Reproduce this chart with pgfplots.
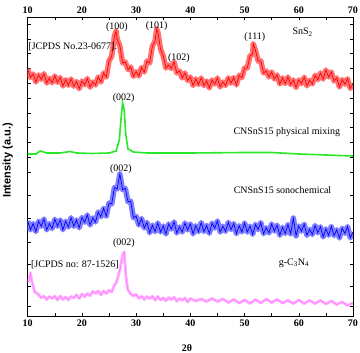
\documentclass[border=0pt]{standalone}
\usepackage{fontspec}
\setmainfont{Liberation Serif}
\newfontfamily\labfont{Liberation Sans}
\usepackage{pgfplots}
\pgfplotsset{compat=1.18}

\definecolor{xred}{RGB}{255,0,0}
\definecolor{xgreen}{RGB}{40,232,40}
\definecolor{xblue}{RGB}{0,0,255}
\definecolor{xpink}{RGB}{255,120,255}

% SnS2 (y = intensity offset in plot units)
\pgfplotstableread{
x y
10 247
10.5 238.5
11 242
11.5 234
12 241
12.5 236.7
13 242.3
13.5 233
14 237.7
14.5 233.3
15 240
15.5 233.7
16 238.3
16.5 230
17 236.3
17.5 230.7
18 237
18.5 229.8
19 234.5
19.5 227.3
20 235
20.5 231.3
21 237.5
21.5 228.8
22 234
22.5 231
23 239
23.5 234
24 243
24.5 239
25 255
25.5 260
26 280
26.3 285
26.5 277
27 270
27.5 253
28 254
28.5 246.5
29 249
29.5 239.7
30 244.3
30.5 240
31 248.5
31.5 244
32 255
32.5 253
33 270
33.5 275
33.8 287
34 284
34.5 267
35 260
35.5 248
36 251
36.5 247.5
37 254
37.5 243
38 245
38.5 238
39 243
39.5 235.5
40 239
40.5 230.5
41 237
41.5 231.5
42 238
42.5 230.5
43 235
43.5 228
44 236
44.5 232
45 238
45.5 229
46 234
46.5 230.6
47 238.2
47.5 232.8
48 238.4
48.5 231
49 240.7
49.5 238.3
50 248
50.5 248
51 260
51.5 262
51.6 272
52 266
52.5 255
53 255
53.5 243
54 245
54.5 239
55 244
55.5 237
56 241
56.5 232
57 238
57.5 232.5
58 239
58.5 231.5
59 236
59.5 228.5
60 236
60.5 232.4
61 238.8
61.5 230.2
62 235.6
62.5 232
63 240.7
63.5 236.3
64 243
64.5 237
65 246
65.5 239
66 244
66.5 235
67 238
67.5 229
68 236.4
68.5 231.8
69 237.2
69.5 227.6
70 232
}\snstwo

% CNSnS15 physical mixing
\pgfplotstableread{
x y
10 162
11.5 162
12.3 165
13.5 163
16 163
17.8 164.5
19 163
22 162.5
25 163
26.3 165
26.9 176
27.2 196
27.5 213
27.8 206
28.1 181
28.5 167
29.5 164
32 163
40 163
50 163.5
55 163.5
60 162
65 161
70 160
}\physmix

% CNSnS15 sonochemical
\pgfplotstableread{
x y
10 95
10.5 86.2
11 92.3
11.5 84.5
12 94.7
12.5 89.8
13 97
13.5 86.2
14 92.3
14.5 87.5
15 96.7
15.5 89.8
16 96
16.5 86.3
17 94.7
17.5 89
18 98.3
18.5 89.7
19 96
19.5 88.3
20 98.5
20.5 93.8
21 101
21.5 91
22 98
22.5 94
23 104
23.5 99.3
24 107.7
24.5 100
25 113
25.5 112
26 128.5
26.5 127
27 142
27.5 126.3
28 127.6
28.5 114.3
29 114.7
29.5 98.3
30 99.7
30.5 91
31 97.5
31.5 88
32 93.6
32.5 83.2
33 90.8
33.5 84.4
34 93
34.5 84
35 90
35.5 82
36 92
36.5 87
37 94
37.5 83
38 89
38.5 84
39 93
39.5 86
40 92
40.5 82.1
41 90.2
41.5 84.3
42 93.4
42.5 84.5
43 90.6
43.5 82.7
44 92.8
44.5 87.9
45 95
45.5 83.9
46 89.8
46.5 84.7
47 93.6
47.5 86.5
48 92.4
48.5 82.3
49 90.2
49.5 84.1
50 93
50.5 83.9
51 89.8
51.5 81.7
52 91.6
52.5 86.5
53 93.4
53.5 82.3
54 88.2
54.5 83.1
55 92
55.5 84.9
56 90.8
56.5 80.7
57 88.6
57.5 82.5
58 91.4
58.5 82.3
59 98
59.5 80.1
60 90
60.5 84.9
61 91.8
61.5 80.7
62 86.6
62.5 81.5
63 90.4
63.5 83.3
64 89.2
64.5 79.1
65 87
65.5 80.8
66 89.6
66.5 80.4
67 86.2
67.5 78
68 87.8
68.5 82.6
69 89.4
69.5 78.2
70 84
}\sono

% g-C3N4
\pgfplotstableread{
x y
10.2 34
10.5 43
10.8 34
11.3 24
11.6 23
12 21.5
12.5 18
13 20
13.5 16.5
14 19.5
14.5 17.5
15 20
15.5 16
16 20
16.5 16.5
17 19
17.5 16
18 19.5
18.5 18
19 21
19.5 17.5
20 22
20.5 19.3
21 22.5
21.5 20.3
22 24.5
22.5 22.5
23 25
23.5 21
24 25
24.5 22.5
25 26
25.5 24
26 31
26.3 33
26.6 38
27 46
27.3 55
27.5 61
27.8 64
28.1 41
28.3 32
28.5 26
29 22
29.5 20
30 21.6
30.5 17.7
31 19.8
31.5 16.4
32 19.5
32.5 17.4
33 19.8
33.5 15.8
34 19.5
34.5 16
35 18.2
35.5 15.3
36 18.5
36.5 16.4
37 18.8
37.5 14.8
38 17.5
38.5 15.7
39 18
39.5 14
40 17.5
41 15
42 17
43 14.5
44 17.5
45 14.5
46 17
47 13.5
48 16.5
49 13
50 16
51 12.5
52 16.5
53 13
54 17
55 13.5
56 16.5
57 13
58 15.5
59 12.5
60 16
61 12.5
62 15.5
63 12.5
64 15.5
65 12
66 15
67 11.5
68 14
69 10.5
70 13
}\gcn

\begin{document}
\begin{tikzpicture}
\fontsize{10}{12}\selectfont
\useasboundingbox (-27.7pt,-37pt) rectangle (332.3pt,316pt);
\begin{axis}[
  scale only axis,
  width=325.3pt, height=299pt,
  xmin=10, xmax=70, ymin=0, ymax=299,
  xtick={10,20,...,70},
  minor x tick num=1,
  ytick={10,30,52,74,98,121,144,159,174,189,203,218,233,248,263,277,292},
  yticklabels={},
  tick align=inside,
  major tick length=3pt, minor tick length=3pt,
  tick style={black, line width=0.5pt},
  axis line style={line width=0.7pt},
  /pgf/number format/assume math mode=true,
  xticklabel style={font=\fontsize{10}{12}\selectfont\bfseries},
  xlabel={\bfseries 2θ},
  xlabel style={font=\fontsize{10}{12}\selectfont, at={(axis description cs:0.49,0)}, anchor=center, yshift=-32pt},
  ylabel={\labfont\bfseries Intensity (a.u.)},
  ylabel style={font=\fontsize{11}{13}\selectfont, at={(axis description cs:-0.061,0.52)}, anchor=center},
  clip=true,
]
% SnS2
\addplot[xred!55, line width=5.5pt, line join=round] table {\snstwo};
\addplot[xred, line width=0.7pt] table {\snstwo};
% physical mixing
\addplot[xgreen, line width=1.6pt] table {\physmix};
% sonochemical
\addplot[xblue!50, line width=5.5pt, line join=round] table {\sono};
\addplot[xblue, line width=0.7pt] table {\sono};
% g-C3N4
\addplot[xpink!55, line width=3pt, line join=round] table {\gcn};
\addplot[xpink, line width=0.6pt] table {\gcn};

\node at (axis cs:26.45,289) {(100)};
\node at (axis cs:33.8,290) {(101)};
\node at (axis cs:37.9,258) {(102)};
\node at (axis cs:51.9,279) {(111)};
\node at (axis cs:60.7,284) {SnS\textsubscript{2}};
\node[anchor=west, inner sep=0pt] at (axis cs:10.1,269) {[JCPDS No.23-0677].};
\node at (axis cs:27.7,218) {(002)};
\node at (axis cs:57.8,184) {CNSnS15 physical mixing};
\node at (axis cs:27.2,147) {(002)};
\node at (axis cs:57.0,126) {CNSnS15 sonochemical};
\node at (axis cs:27.75,73) {(002)};
\node[anchor=west, inner sep=0pt] at (axis cs:10.6,51) {[JCPDS no: 87-1526]};
\node at (axis cs:59.1,53) {g-C\textsubscript{3}N\textsubscript{4}};
\end{axis}
\begin{axis}[
  scale only axis,
  width=325.3pt, height=299pt,
  xmin=10, xmax=70, ymin=0, ymax=299,
  axis x line*=top, axis y line=none,
  xtick={10,20,...,70},
  tick align=inside, major tick length=0pt,
  /pgf/number format/assume math mode=true,
  xticklabel style={font=\fontsize{10}{12}\selectfont\bfseries},
]
\addplot[draw=none] coordinates {(10,0)};
\end{axis}
\end{tikzpicture}
\end{document}
